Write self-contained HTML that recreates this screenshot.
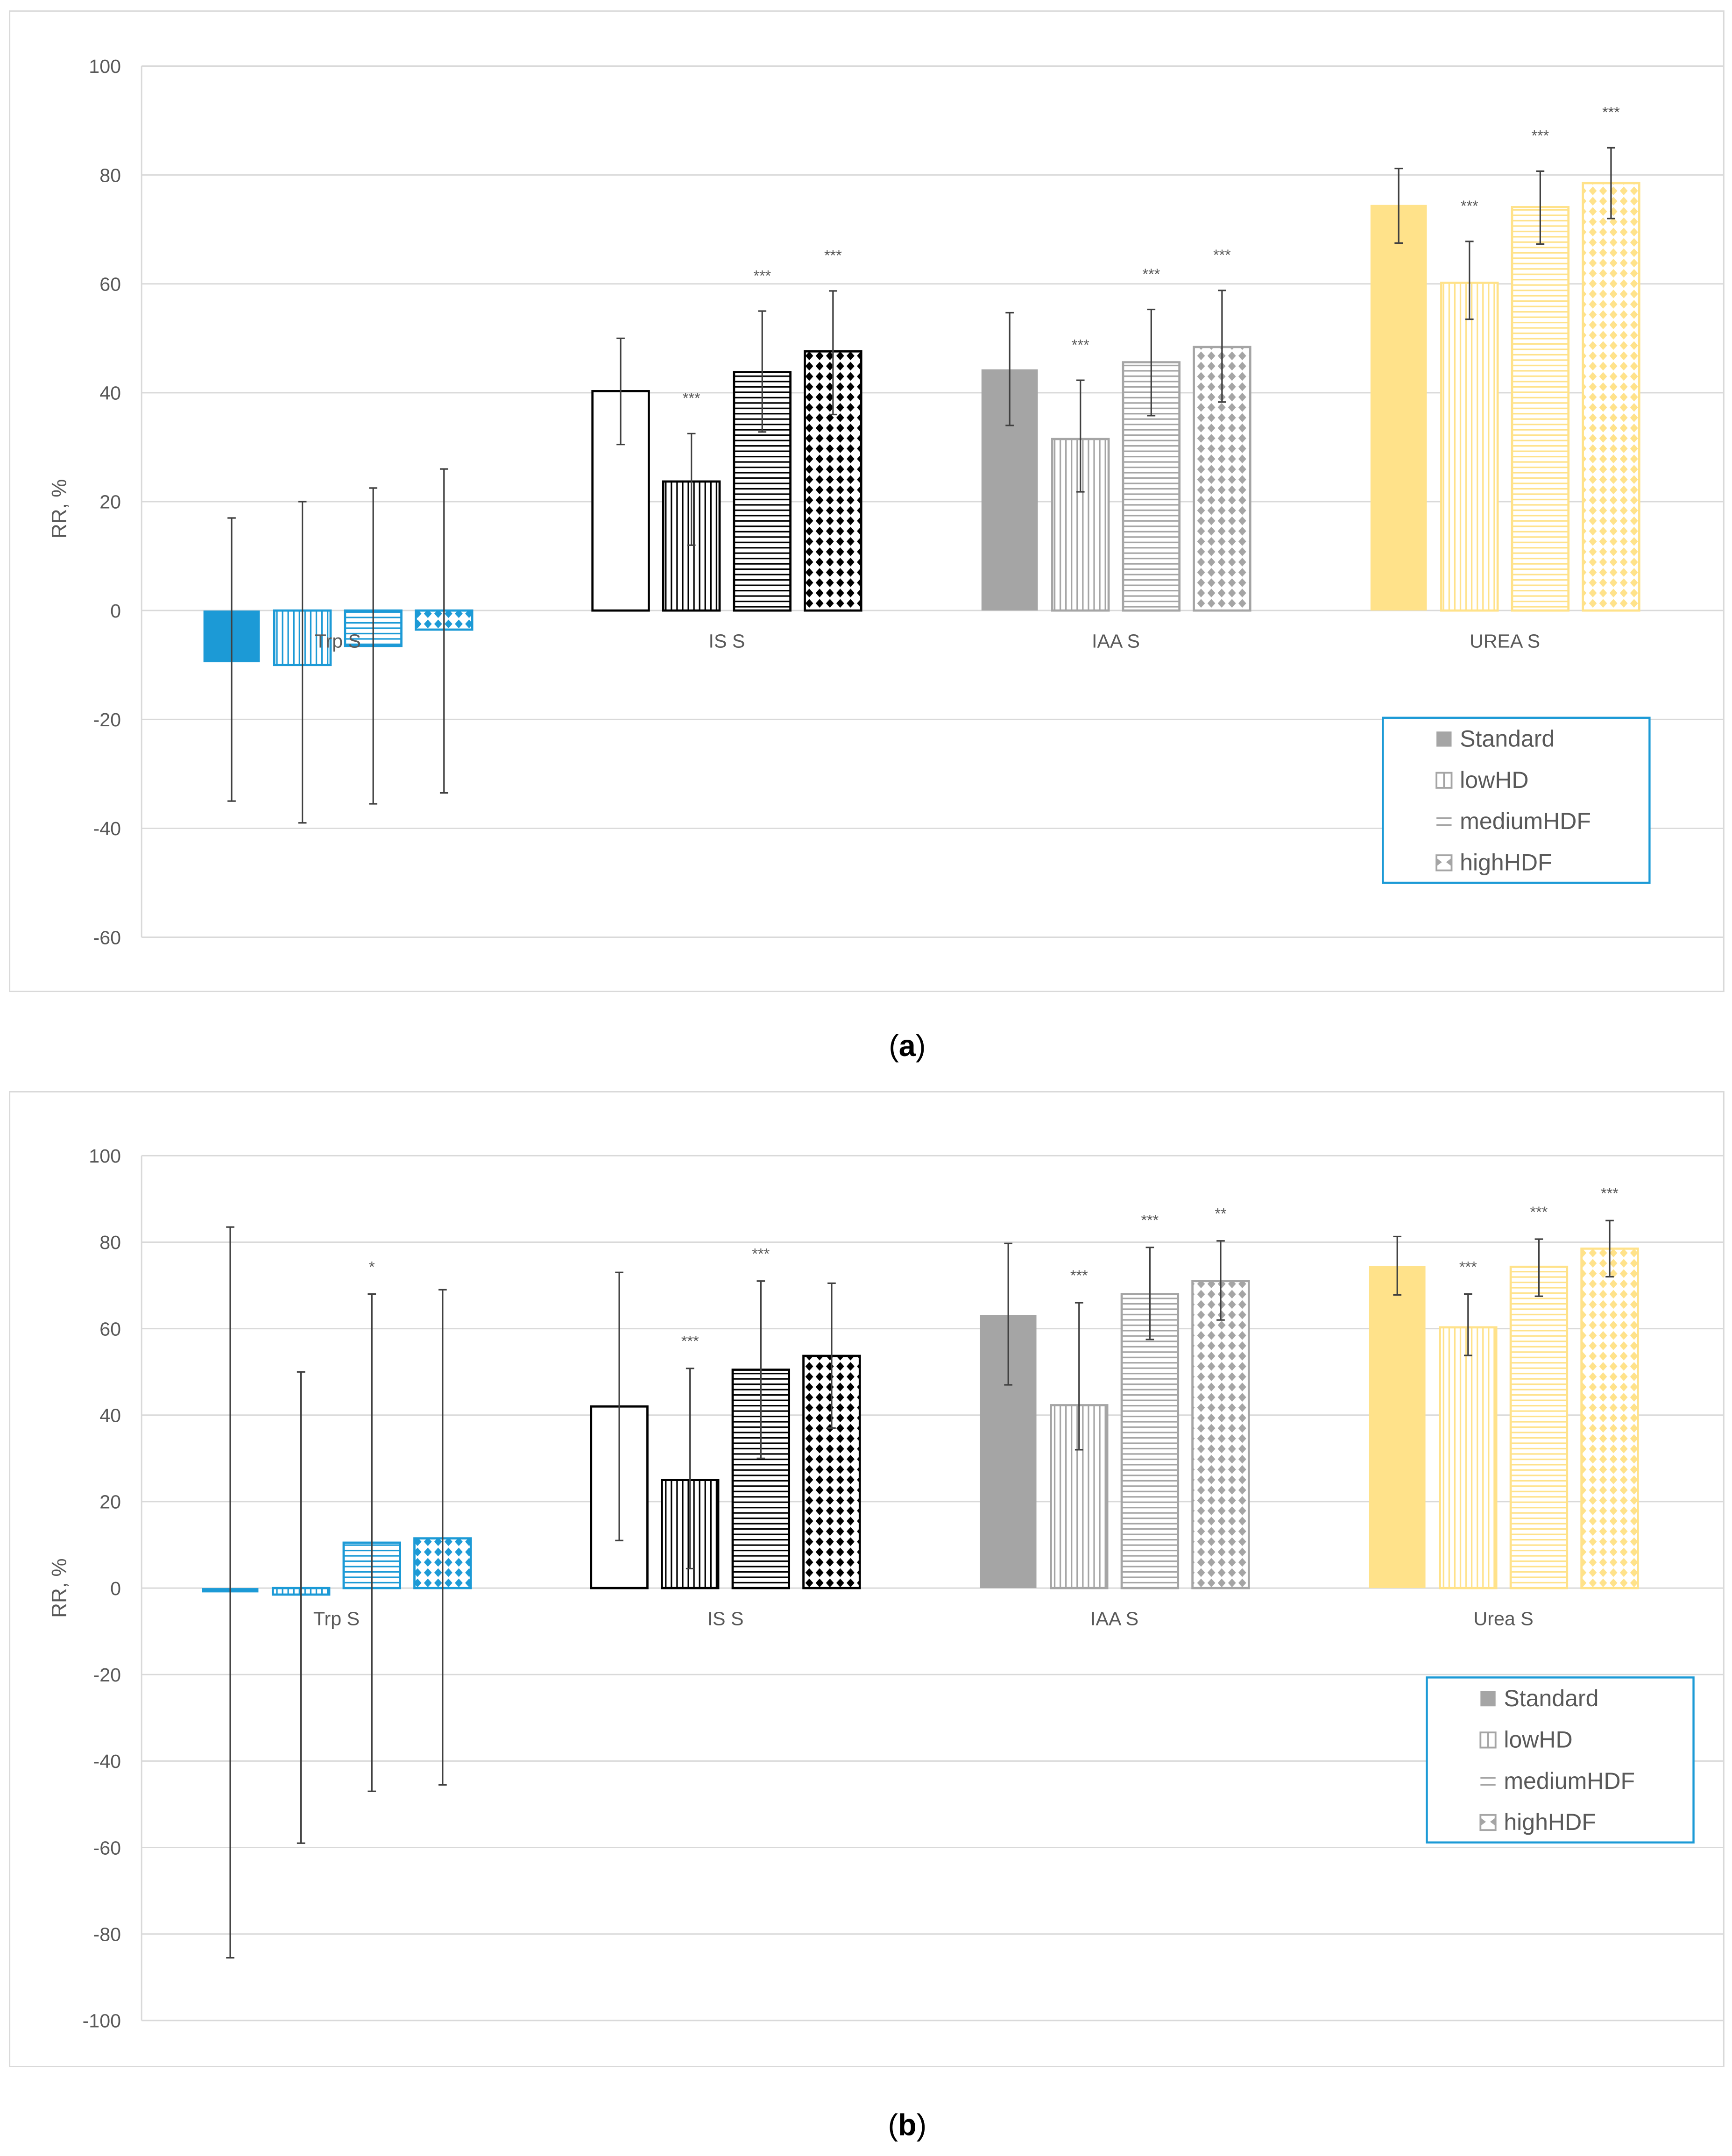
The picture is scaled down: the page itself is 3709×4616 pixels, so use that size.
<!DOCTYPE html>
<html><head><meta charset="utf-8"><style>
html,body{margin:0;padding:0;background:#fff;}
svg{display:block;}
text{font-family:"Liberation Sans",sans-serif;}
</style></head><body>
<svg id="fig" xmlns="http://www.w3.org/2000/svg" width="3709" height="4616" viewBox="0 0 1260 1568">
<defs id="defs"></defs>
</svg>
<script>
// ---- Data ----
const series = ["Standard","lowHD","mediumHDF","highHDF"];
const catsA = ["Trp S","IS S","IAA S","UREA S"];
const valsA = [[-9.5,-10,-6.5,-3.5],[40.3,23.7,43.8,47.6],[44.3,31.5,45.6,48.4],[74.5,60.2,74.1,78.5]];
const hiA = [[17,20,22.5,26],[50,32.5,55,58.7],[54.7,42.3,55.3,58.8],[81.2,67.8,80.7,85]];
const loA = [[-35,-39,-35.5,-33.5],[30.5,12,32.8,36],[34,21.8,35.8,38.3],[67.5,53.5,67.3,72]];
const starsA = [["","","",""],["","***","***","***"],["","***","***","***"],["","***","***","***"]];
const ticksA = [100,80,60,40,20,0,-20,-40,-60];

const catsB = ["Trp S","IS S","IAA S","Urea S"];
const valsB = [[-1,-1.5,10.5,11.5],[42,25,50.5,53.7],[63.2,42.3,68,71],[74.5,60.3,74.3,78.5]];
const hiB = [[83.5,50,68,69],[73,50.8,71,70.5],[79.7,66,78.8,80.3],[81.3,68,80.7,85]];
const loB = [[-85.5,-59,-47,-45.5],[11,4.5,30,37],[47,32,57.5,62],[67.8,53.8,67.5,72]];
const starsB = [["","","*",""],["","***","***",""],["","***","***","**"],["","***","***","***"]];
const ticksB = [100,80,60,40,20,0,-20,-40,-60,-80,-100];

const colors = ["#1c9ad6","#000000","#a5a5a5","#ffe28a"];
const stdFill = ["#1c9ad6","#ffffff","#a5a5a5","#ffe28a"];

const NS="http://www.w3.org/2000/svg";
const svg=document.getElementById('fig');
const defs=document.getElementById('defs');
function mk(tag,attrs,parent){const e=document.createElementNS(NS,tag);for(const k in attrs)e.setAttribute(k,attrs[k]);(parent||svg).appendChild(e);return e;}

colors.forEach((c,ci)=>{
  let p=mk('pattern',{id:'v'+ci,patternUnits:'userSpaceOnUse',width:4.1,height:4},defs);
  mk('rect',{x:0,y:0,width:4.1,height:4,fill:'#fff'},p);
  mk('rect',{x:0,y:0,width:1.1,height:4,fill:c},p);
  p=mk('pattern',{id:'h'+ci,patternUnits:'userSpaceOnUse',width:4,height:3.9},defs);
  mk('rect',{x:0,y:0,width:4,height:3.9,fill:'#fff'},p);
  mk('rect',{x:0,y:0,width:4,height:1.1,fill:c},p);
  p=mk('pattern',{id:'d'+ci,patternUnits:'userSpaceOnUse',width:7.5,height:7.5},defs);
  mk('rect',{x:0,y:0,width:7.5,height:7.5,fill:'#fff'},p);
  mk('path',{d:'M3.75 0.6 L6.6 3.75 L3.75 6.9 L0.9 3.75 Z',fill:c},p);
});

function chart(o){
  const g=mk('g',{});
  
  
  const frame=mk('rect',{x:o.px,y:o.py,width:o.pw,height:o.ph,fill:'#fff',stroke:'#d9d9d9','stroke-width':1},g);
  
  
  const y=v=>o.y0-v*o.k;
  o.ticks.forEach(t=>{
    const l=mk('line',{x1:o.ax,x2:o.ax2,y1:y(t),y2:y(t),stroke:'#d9d9d9','stroke-width':1},g);
    
    
    const tx=mk('text',{x:o.ax-15,y:y(t)+5,'text-anchor':'end','font-size':14,fill:'#595959'},g);
    tx.textContent=t;
    
    
  });
  const ya=mk('line',{x1:o.ax,x2:o.ax,y1:y(o.ticks[0]),y2:y(o.ticks[o.ticks.length-1]),stroke:'#d9d9d9'},g);
  
  
  const yt=mk('text',{transform:`translate(${o.ytx},${o.yty}) rotate(-90)`,'text-anchor':'middle','font-size':15,fill:'#595959'},g);
  yt.textContent='RR, %';
  
  
  const fills=['',"v","h","d"];
  o.cats.forEach((cat,ci)=>{
    const c0=o.x0+ci*o.gstep;
    o.vals[ci].forEach((v,si)=>{
      const x=c0+si*o.bstep;
      const top=Math.min(y(v),y(0)), h=Math.abs(y(v)-y(0));
      const fill= si===0?stdFill[ci]:`url(#${fills[si]}${ci})`;
      const sw = (si===0 && stdFill[ci]===colors[ci]) ? 0 : 1.6;
      const r=mk('rect',{x:x,y:top,width:o.bw,height:h,fill:fill,stroke:colors[ci],'stroke-width':sw},g);
      
      
      const cx=x+o.bw/2;
      const e=mk('path',{d:`M${cx} ${y(o.hi[ci][si])}V${y(o.lo[ci][si])}M${cx-3} ${y(o.hi[ci][si])}h6M${cx-3} ${y(o.lo[ci][si])}h6`,stroke:'#404040','stroke-width':1.1,fill:'none'},g);
      
      
      if(o.stars[ci][si]){
        const s=mk('text',{x:cx,y:y(o.hi[ci][si])-o.soff,'text-anchor':'middle','font-size':11,fill:'#595959'},g);
        s.textContent=o.stars[ci][si];
        
        
      }
    });
    const cl=mk('text',{x:c0+1.5*o.bstep+o.bw/2,y:y(0)+27,'text-anchor':'middle','font-size':14,fill:'#595959'},g);
    cl.textContent=cat;
    
    
  });
  const lg=mk('g',{},g);
  
  
  mk('rect',{x:o.lx,y:o.ly,width:194,height:120,fill:'#fff',stroke:'#1c9ad6','stroke-width':1.5},lg);
  series.forEach((s,i)=>{
    const yy=o.ly+15+i*30;
    const sx=o.lx+39;
    if(i===0) mk('rect',{x:sx,y:yy-5,width:11,height:11,fill:'#a5a5a5'},lg);
    if(i===1){mk('rect',{x:sx,y:yy-5,width:11,height:11,fill:'#fff',stroke:'#a5a5a5','stroke-width':1.3},lg);mk('line',{x1:sx+5.5,x2:sx+5.5,y1:yy-5,y2:yy+6,stroke:'#a5a5a5','stroke-width':1.3},lg);}
    if(i===2){mk('path',{d:`M${sx} ${yy-2}h11M${sx} ${yy+3}h11`,stroke:'#a5a5a5','stroke-width':1.3},lg);}
    if(i===3){mk('rect',{x:sx,y:yy-5,width:11,height:11,fill:'#fff',stroke:'#a5a5a5','stroke-width':1.3},lg);mk('path',{d:`M${sx} ${yy-3}l4 3l-4 3zM${sx+11} ${yy-3}l-4 3l4 3z`,fill:'#a5a5a5'},lg);}
    const t=mk('text',{x:sx+17,y:yy+6,'font-size':17,fill:'#595959'},lg);
    t.textContent=s;
    
    
  });
  const cap=mk('text',{x:660,y:o.capy,'text-anchor':'middle','font-size':22,fill:'#000','font-family':'Liberation Serif'},g);
  cap.innerHTML='(<tspan font-weight="bold">'+o.cap+'</tspan>)';
  
  
}

chart({name:'chart-a',px:7,py:8,pw:1247,ph:713,ax:103,ax2:1254,y0:444,k:3.96,ticks:ticksA,
  cats:catsA,vals:valsA,hi:hiA,lo:loA,stars:starsA,x0:148,gstep:283,bstep:51.5,bw:41,soff:22,
  ytx:48,yty:370,lx:1006,ly:522,capy:768,cap:'a'});
chart({name:'chart-b',px:7,py:794,pw:1247,ph:709,ax:103,ax2:1254,y0:1155,k:3.145,ticks:ticksB,
  cats:catsB,vals:valsB,hi:hiB,lo:loB,stars:starsB,x0:147,gstep:283,bstep:51.5,bw:41,soff:16,
  ytx:48,yty:1155,lx:1038,ly:1220,capy:1553,cap:'b'});
</script>
</body></html>
